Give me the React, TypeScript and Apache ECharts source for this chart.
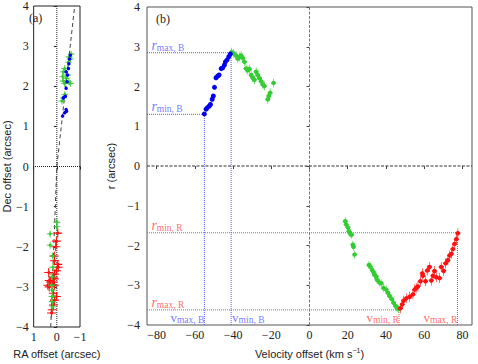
import React, { useEffect, useRef } from "react";
import * as echarts from "echarts";

// ---------- Panel (b): velocity offset vs r ----------
const blueVel = [-55, -54.1, -53.4, -52.4, -51.8, -50.9, -50.3, -49.7, -48.9, -48.1, -47.3, -46.2, -45.4, -44.5, -44.0, -43.1, -42.2, -41.4];
const blueR = [1.31, 1.43, 1.47, 1.51, 1.55, 1.68, 1.76, 1.98, 2.22, 2.26, 2.29, 2.45, 2.47, 2.54, 2.62, 2.67, 2.75, 2.82];

const greenBlueVel = [-40.7, -39.6, -38.4, -37.5, -36.6, -35.8, -34.9, -34.0, -33.2, -32.3, -31.4, -30.5, -29.7, -28.8, -27.9, -27.1, -26.2, -25.3, -24.4, -23.6, -21.8, -21.3, -20.6, -18.8];
const greenBlueR = [2.86, 2.83, 2.78, 2.70, 2.74, 2.78, 2.72, 2.62, 2.45, 2.41, 2.44, 2.29, 2.22, 2.17, 2.37, 2.29, 2.21, 2.13, 2.05, 2.01, 1.68, 1.76, 1.84, 2.09];

const greenRedVel = [18.7, 19.2, 20.1, 20.6, 21.3, 22.0, 22.7, 23.0, 23.6, 31.1, 31.8, 32.8, 33.5, 34.0, 34.9, 35.3, 36.6, 37.5, 38.7, 40.1, 41.0, 41.9, 43.1, 44.0, 45.0, 45.8, 46.6];
const greenRedR = [-1.39, -1.47, -1.55, -1.64, -1.70, -1.73, -1.98, -2.03, -2.23, -2.49, -2.53, -2.62, -2.67, -2.74, -2.78, -2.86, -2.93, -2.95, -3.07, -3.11, -3.19, -3.27, -3.35, -3.44, -3.52, -3.58, -3.60];

const redVel = [47.5, 48.5, 49.2, 50.6, 52.4, 54.1, 55.0, 55.8, 56.7, 58.0, 59.0, 59.3, 60.7, 61.6, 62.8, 63.7, 64.6, 65.4, 66.3, 68.1, 68.9, 70.2, 71.2, 72.4, 73.3, 74.2, 75.0, 75.9, 76.8, 77.6];
const redR = [-3.58, -3.48, -3.39, -3.33, -3.29, -3.23, -3.11, -3.07, -3.03, -2.90, -2.70, -2.76, -2.90, -2.63, -2.54, -2.88, -2.76, -2.64, -2.80, -2.82, -2.54, -2.64, -2.45, -2.37, -2.25, -2.21, -2.09, -1.96, -1.84, -1.69];

// characteristic values
const vMaxB = -55;
const vMinB = -41;
const rMaxB = 2.85;
const rMinB = 1.3;
const vMinR = 46.8;
const vMaxR = 77.4;
const rMinR = -1.68;
const rMaxR = -3.62;

const velTicks = [-80, -60, -40, -20, 0, 20, 40, 60, 80];
const offTicks = [-4, -3, -2, -1, 0, 1, 2, 3, 4];

// ---------- Panel (a): RA vs Dec offsets ----------
const blueRA = [-0.25, -0.34, -0.40, -0.42, -0.28, -0.37, -0.40, -0.44, -0.46, -0.40, -0.50, -0.52, -0.55, -0.58];
const blueDec = [1.26, 1.34, 1.42, 1.38, 1.71, 1.75, 1.95, 2.11, 2.28, 2.36, 2.44, 2.56, 2.68, 2.77];
const greenNRA = [-0.53, -0.58, -0.50, -0.34, -0.28, -0.25, -0.28, -0.34, -0.46, -0.58, -0.52, -0.22, -0.28, -0.34, -0.62, -0.40];
const greenNDec = [2.73, 2.68, 2.60, 2.44, 2.36, 2.24, 2.13, 2.07, 2.28, 2.07, 2.11, 1.63, 1.71, 1.79, 2.80, 2.20];
const greenSRA = [0.0, 0.0, 0.29, 0.29, 0.18, 0.17, 0.20, 0.23, 0.20, 0.20, 0.20, 0.18];
const greenSDec = [-1.39, -1.50, -1.68, -1.96, -2.23, -2.51, -2.75, -2.96, -3.08, -3.24, -3.37, -3.50];
const redRA = [-0.04, 0.02, 0.05, 0.11, 0.10, -0.04, -0.06, 0.02, 0.10, 0.15, 0.35, 0.33, 0.39, 0.33, 0.27, 0.15, 0.10, 0.02, 0.10, 0.15, 0.20, 0.23, 0.15, 0.11];
const redDec = [-1.66, -1.86, -2.00, -2.23, -2.35, -2.44, -2.51, -2.60, -2.68, -2.76, -2.64, -2.84, -2.96, -3.00, -2.88, -2.88, -2.96, -3.24, -3.33, -3.45, -3.57, -3.65, -3.16, -2.80];
const fitRA = [0.265, 0, -0.77];
const fitDec = [-4, 0, 4];
const raTicks = [-1, 0, 1];

const zip = (a: number[], b: number[]) => a.map((v, i) => [v, b[i]]);
const fmt = (v: number) => (v < 0 ? "\u2212" + Math.abs(v) : String(v));

const BLUE = "#0000ee";
const GREEN = "#33cc33";
const RED = "#ff1111";
const LBLUE = "#5555ff";
const LRED = "#ff4444";
const CROSS = "path://M4.4,0H5.6V10H4.4Z M0,4.4H10V5.6H0Z";
const SERIF = "Liberation Serif";
const SANS = "Liberation Sans";

const tickLabel = {
  fontFamily: SERIF,
  fontSize: 12,
  color: "#222",
  formatter: fmt,
  showMaxLabel: true,
  showMinLabel: true,
  hideOverlap: false,
};

function line(data: number[][], color: string, type: any, xi: number, w = 1) {
  return {
    type: "line",
    xAxisIndex: xi,
    yAxisIndex: xi,
    data,
    symbol: "none",
    silent: true,
    lineStyle: { color, width: w, type },
    z: 1,
  };
}

function scatter(data: number[][], color: string, size: any, symbol: string, xi: number, z = 3) {
  return {
    type: "scatter",
    xAxisIndex: xi,
    yAxisIndex: xi,
    data,
    symbol,
    symbolSize: size,
    itemStyle: { color, opacity: 1 },
    silent: true,
    z,
  };
}

const rRich = {
  r: { fontFamily: SERIF, fontStyle: "italic", fontSize: 14 },
  s: { fontFamily: SERIF, fontSize: 9.5, padding: [5, 0, 0, 0] },
};
const vRich = {
  v: { fontFamily: SERIF, fontSize: 13 },
  s: { fontFamily: SERIF, fontSize: 9.5, padding: [5, 0, 0, 0] },
};

function ann(x: number, y: number, text: string, color: string, align: string, rich: any, dx: number) {
  return {
    value: [x, y],
    label: {
      show: true,
      position: [0, 0],
      align,
      verticalAlign: "bottom",
      offset: [dx, 0],
      formatter: text,
      color,
      rich: Object.fromEntries(Object.entries(rich).map(([k, s]: any) => [k, { ...s, color }])),
    },
  };
}

export default function App() {
  const ref = useRef<HTMLDivElement>(null);
  useEffect(() => {
    const chart = echarts.init(ref.current!, null, { renderer: "svg" });
    const option: any = {
      animation: false,
      backgroundColor: "#fff",
      grid: [
        { left: 25, top: 6, width: 55, height: 325, show: true, borderColor: "#222", borderWidth: 1 },
        { left: 147, top: 7, width: 325, height: 326, show: true, borderColor: "#555", borderWidth: 1 },
      ],
      xAxis: [
        {
          type: "value",
          gridIndex: 0,
          min: -1,
          max: 1,
          inverse: true,
          interval: 1,
          splitLine: { show: false },
          axisLine: { show: false },
          axisTick: { show: true, length: 3, lineStyle: { color: "#222" } },
          axisLabel: { ...tickLabel, margin: 4, customValues: raTicks },
          name: "RA offset (arcsec)",
          nameLocation: "middle",
          nameGap: 21,
          nameTextStyle: { fontFamily: SANS, fontSize: 11, color: "#222" },
        },
        {
          type: "value",
          gridIndex: 1,
          min: -85,
          max: 85,
          splitLine: { show: false },
          axisLine: { show: false },
          axisTick: { show: true, length: 3, lineStyle: { color: "#444" }, customValues: velTicks },
          axisLabel: { ...tickLabel, margin: 4, customValues: velTicks },
          name: "Velocity offset (km s{sup|\u22121})",
          nameLocation: "middle",
          nameGap: 22,
          nameTextStyle: {
            fontFamily: SANS,
            fontSize: 11,
            color: "#222",
            rich: { sup: { fontFamily: SANS, fontSize: 7, padding: [0, 0, 6, 0], color: "#222" } },
          },
        },
      ],
      yAxis: [
        {
          type: "value",
          gridIndex: 0,
          min: -4,
          max: 4,
          interval: 1,
          splitLine: { show: false },
          axisLine: { show: false },
          axisTick: { show: true, length: 3, lineStyle: { color: "#222" }, customValues: offTicks },
          axisLabel: { ...tickLabel, margin: 5, customValues: offTicks },
          name: "Dec offset (arcsec)",
          nameLocation: "middle",
          nameGap: 17,
          nameTextStyle: { fontFamily: SANS, fontSize: 11, color: "#222" },
        },
        {
          type: "value",
          gridIndex: 1,
          min: -4,
          max: 4,
          interval: 1,
          splitLine: { show: false },
          axisLine: { show: false },
          axisTick: { show: true, length: 3, lineStyle: { color: "#444" } },
          axisLabel: { ...tickLabel, margin: 7 },
          name: "r (arcsec)",
          nameLocation: "middle",
          nameGap: 27,
          nameTextStyle: { fontFamily: SANS, fontSize: 11, color: "#222" },
        },
      ],
      graphic: [
        {
          type: "text",
          x: 29,
          y: 12,
          z: 10,
          style: { text: "(a)", fontFamily: SERIF, fontSize: 12, fill: "#222", verticalAlign: "top", align: "left" },
        },
        {
          type: "text",
          x: 156,
          y: 13,
          z: 10,
          style: { text: "(b)", fontFamily: SERIF, fontSize: 12, fill: "#222", verticalAlign: "top", align: "left" },
        },
      ],
      series: [
        // panel (a)
        line([[0, -4], [0, 4]], "#222", "dotted", 0),
        line([[-1, 0], [1, 0]], "#222", "dotted", 0),
        line(zip(fitRA, fitDec), "#444", [4, 3], 0),
        scatter(zip(redRA, redDec), RED, 9, CROSS, 0),
        scatter(zip(redRA, redDec), RED, 3, "circle", 0),
        scatter(zip(greenNRA, greenNDec), GREEN, 7, CROSS, 0),
        scatter(zip(greenNRA, greenNDec), GREEN, 3, "circle", 0),
        scatter(zip(greenSRA, greenSDec), GREEN, 7, CROSS, 0),
        scatter(zip(greenSRA, greenSDec), GREEN, 3, "circle", 0),
        scatter(zip(blueRA, blueDec), BLUE, 3.5, "circle", 0, 4),
        // panel (b) reference lines
        line([[0, -4], [0, 4]], "#777", [3, 1.5], 1),
        line([[-85, 0], [85, 0]], "#333", [3, 1.5], 1),
        line([[-85, rMaxB], [vMinB, rMaxB]], LBLUE, "dotted", 1),
        line([[-85, rMinB], [vMaxB, rMinB]], LBLUE, "dotted", 1),
        line([[vMaxB, -4], [vMaxB, rMinB]], LBLUE, "dotted", 1),
        line([[vMinB, -4], [vMinB, rMaxB]], LBLUE, "dotted", 1),
        line([[-85, rMinR], [vMaxR, rMinR]], LRED, "dotted", 1),
        line([[-85, rMaxR], [vMinR, rMaxR]], LRED, "dotted", 1),
        line([[vMinR, -4], [vMinR, rMaxR]], LRED, "dotted", 1),
        line([[vMaxR, -4], [vMaxR, rMinR]], LRED, "dotted", 1),
        // panel (b) data
        scatter(zip(greenBlueVel, greenBlueR), GREEN, [5, 9], CROSS, 1),
        scatter(zip(greenBlueVel, greenBlueR), GREEN, 4.5, "circle", 1),
        scatter(zip(greenRedVel, greenRedR), GREEN, [5, 8], CROSS, 1),
        scatter(zip(greenRedVel, greenRedR), GREEN, 4.5, "circle", 1),
        scatter(zip(redVel, redR), RED, [5, 10], CROSS, 1),
        scatter(zip(redVel, redR), RED, 4.5, "circle", 1),
        scatter(zip(blueVel, blueR), BLUE, 5, "circle", 1, 4),
        // annotations
        {
          type: "scatter",
          xAxisIndex: 1,
          yAxisIndex: 1,
          symbolSize: 0,
          silent: true,
          z: 6,
          data: [
            ann(-82.7, rMaxB, "{r|r}{s|max, B}", LBLUE, "left", rRich, 0),
            ann(-82.7, rMinB, "{r|r}{s|min, B}", LBLUE, "left", rRich, 0),
            ann(-82.7, rMinR, "{r|r}{s|min, R}", LRED, "left", rRich, 0),
            ann(-82.7, rMaxR, "{r|r}{s|max, R}", LRED, "left", rRich, 0),
            ann(vMaxB, -4, "{v|v}{s|max, B}", LBLUE, "right", vRich, 0),
            ann(vMinB, -4, "{v|v}{s|min, B}", LBLUE, "left", vRich, 1),
            ann(vMinR, -4, "{v|v}{s|min, R}", LRED, "right", vRich, 0),
            ann(vMaxR, -4, "{v|v}{s|max, R}", LRED, "right", vRich, 0),
          ],
        },
      ],
    };
    chart.setOption(option);
    return () => chart.dispose();
  }, []);
  return <div ref={ref} style={{ position: "fixed", left: 0, top: 0, width: 478, height: 364 }} />;
}
